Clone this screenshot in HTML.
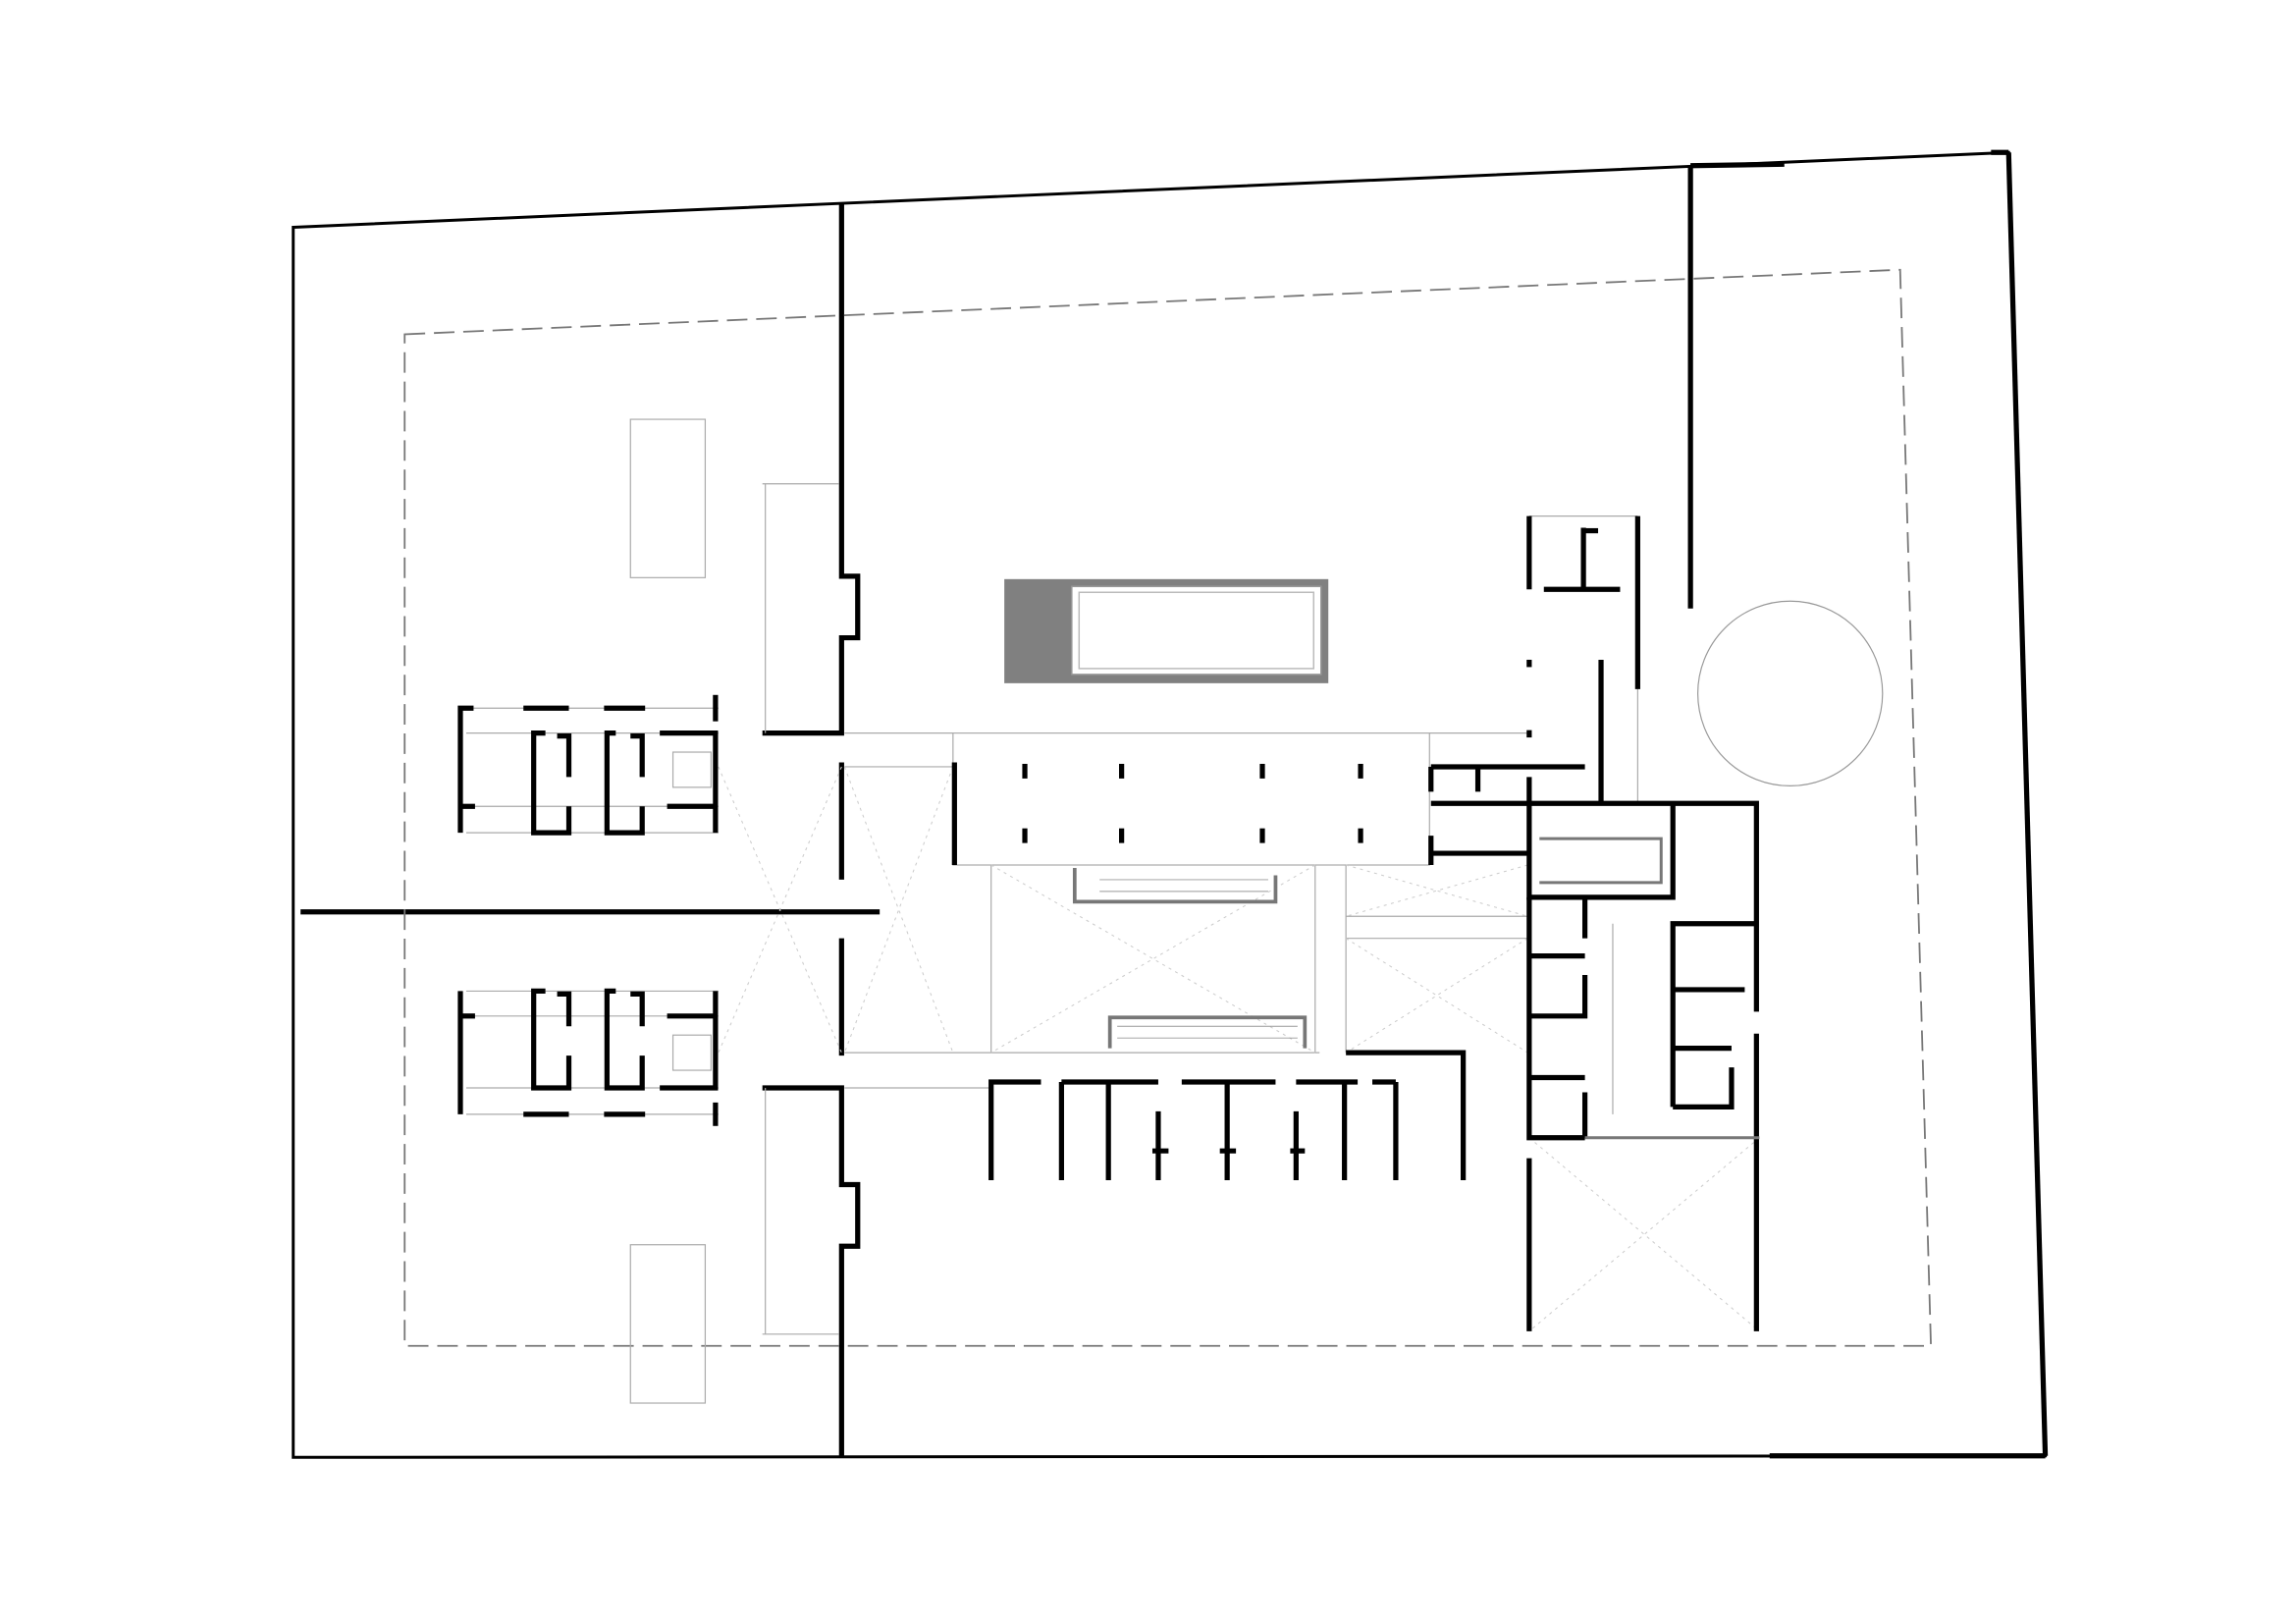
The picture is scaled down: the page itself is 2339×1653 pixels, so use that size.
<!DOCTYPE html>
<html><head><meta charset="utf-8"><style>html,body{margin:0;padding:0;background:#fff}svg{display:block}</style></head>
<body>
<svg width="2339" height="1653" viewBox="0 0 1566 1107" preserveAspectRatio="none" xmlns="http://www.w3.org/2000/svg">
<rect width="1570" height="1110" fill="#fff"/>
<polygon points="200,155 1370,104 1395,993 200,994" fill="none" stroke="#000" stroke-width="2"/>
<g stroke="#000" stroke-width="3.5" fill="none">
<line x1="1153" y1="113" x2="1217" y2="112"/>
<line x1="1358" y1="104" x2="1370" y2="104"/>
<line x1="1370" y1="104" x2="1395" y2="993"/>
<line x1="1207" y1="993" x2="1395" y2="993"/>
<line x1="1153" y1="113" x2="1153" y2="415"/>
<polyline points="574,139 574,393 585,393 585,435 574,435 574,500 520,500"/>
<line x1="574" y1="520" x2="574" y2="600"/>
<line x1="574" y1="640" x2="574" y2="720"/>
<polyline points="520,742 574,742 574,808 585,808 585,850 574,850 574,994"/>
<line x1="205" y1="622" x2="600" y2="622"/>
</g>
<polygon points="276,228 1296,184 1317,918 276,918" fill="none" stroke="#777" stroke-width="1.2" stroke-dasharray="14,6"/>
<circle cx="1221" cy="473" r="63" fill="none" stroke="#999" stroke-width="0.8"/>
<g fill="none" stroke="#aaa" stroke-width="0.8">
<rect x="430" y="286" width="51" height="108"/>
<rect x="430" y="849" width="51" height="108"/>
<rect x="650" y="500" width="325" height="90"/>
<line x1="576" y1="500" x2="650" y2="500"/><line x1="576" y1="523" x2="650" y2="523"/>
<line x1="576" y1="718" x2="900" y2="718"/><line x1="576" y1="742" x2="676" y2="742"/>
<line x1="676" y1="590" x2="676" y2="718"/><line x1="897" y1="590" x2="897" y2="718"/><line x1="918" y1="590" x2="918" y2="718"/>
<line x1="918" y1="625" x2="1042" y2="625"/><line x1="918" y1="640" x2="1042" y2="640"/>
<line x1="975" y1="500" x2="1042" y2="500"/>
<line x1="520" y1="330" x2="572" y2="330"/><line x1="520" y1="910" x2="572" y2="910"/>
<line x1="522" y1="330" x2="522" y2="500"/><line x1="522" y1="742" x2="522" y2="910"/>
<line x1="1117" y1="470" x2="1117" y2="548"/>
<line x1="1043" y1="352" x2="1117" y2="352"/>
<line x1="1100" y1="630" x2="1100" y2="760"/>
<line x1="318" y1="500" x2="490" y2="500"/><line x1="318" y1="568" x2="490" y2="568"/>
<line x1="318" y1="676" x2="490" y2="676"/><line x1="318" y1="742" x2="490" y2="742"/>
<line x1="318" y1="550" x2="490" y2="550"/><line x1="318" y1="693" x2="490" y2="693"/>
<line x1="318" y1="760" x2="490" y2="760"/><line x1="318" y1="483" x2="490" y2="483"/>
<rect x="459" y="513" width="26" height="24"/><rect x="459" y="706" width="26" height="24"/>
</g>
<g stroke="#ccc" stroke-width="0.7" stroke-dasharray="2,3" fill="none">
<line x1="490" y1="523" x2="574" y2="718"/><line x1="574" y1="523" x2="490" y2="718"/>
<line x1="576" y1="523" x2="650" y2="718"/><line x1="650" y1="523" x2="576" y2="718"/>
<line x1="676" y1="590" x2="897" y2="718"/><line x1="897" y1="590" x2="676" y2="718"/>
<line x1="918" y1="640" x2="1042" y2="718"/><line x1="1042" y1="640" x2="918" y2="718"/>
<line x1="918" y1="590" x2="1042" y2="625"/><line x1="1042" y1="590" x2="918" y2="625"/>
<line x1="1043" y1="776" x2="1200" y2="908"/><line x1="1200" y1="776" x2="1043" y2="908"/>
</g>
<rect x="685" y="395" width="221" height="71" fill="#808080"/>
<rect x="731" y="400" width="170" height="60" fill="#fff" stroke="#999"/>
<rect x="736" y="404" width="160" height="52" fill="none" stroke="#bbb"/>
<g fill="none" stroke="#777" stroke-width="2.5">
<polyline points="733,592 733,615 870,615 870,597"/>
<polyline points="757,715 757,694 890,694 890,715"/>
</g>
<g stroke="#999" stroke-width="0.6">
<line x1="750" y1="600" x2="865" y2="600"/><line x1="750" y1="608" x2="865" y2="608"/>
<line x1="762" y1="700" x2="885" y2="700"/><line x1="762" y1="708" x2="885" y2="708"/>
</g>
<g stroke="#000" stroke-width="3.5">
<line x1="699" y1="521" x2="699" y2="531"/><line x1="765" y1="521" x2="765" y2="531"/><line x1="861" y1="521" x2="861" y2="531"/><line x1="928" y1="521" x2="928" y2="531"/>
<line x1="699" y1="565" x2="699" y2="575"/><line x1="765" y1="565" x2="765" y2="575"/><line x1="861" y1="565" x2="861" y2="575"/><line x1="928" y1="565" x2="928" y2="575"/>
<line x1="651" y1="520" x2="651" y2="590"/>
</g>
<g stroke="#000" stroke-width="3.5" fill="none">
<polyline points="323,483 314,483 314,568"/><line x1="357" y1="483" x2="388" y2="483"/><line x1="412" y1="483" x2="440" y2="483"/><line x1="488" y1="474" x2="488" y2="492"/>
<polyline points="372,500 364,500 364,568 388,568 388,550"/><polyline points="380,502 388,502 388,530"/>
<polyline points="420,500 414,500 414,568 438,568 438,550"/><polyline points="430,502 438,502 438,530"/>
<polyline points="450,500 488,500 488,568"/><line x1="455" y1="550" x2="488" y2="550"/>
<line x1="314" y1="550" x2="324" y2="550"/>
<polyline points="314,676 314,760"/><line x1="314" y1="693" x2="324" y2="693"/>
<polyline points="372,676 364,676 364,742 388,742 388,720"/><polyline points="380,678 388,678 388,700"/>
<polyline points="420,676 414,676 414,742 438,742 438,720"/><polyline points="430,678 438,678 438,700"/>
<polyline points="488,676 488,742 450,742"/><line x1="455" y1="693" x2="488" y2="693"/>
<line x1="357" y1="760" x2="388" y2="760"/><line x1="412" y1="760" x2="440" y2="760"/><line x1="488" y1="752" x2="488" y2="768"/>
<polyline points="918,718 998,718 998,805"/>
<polyline points="676,805 676,738 710,738"/><line x1="724" y1="738" x2="790" y2="738"/>
<line x1="806" y1="738" x2="870" y2="738"/><line x1="884" y1="738" x2="926" y2="738"/><line x1="936" y1="738" x2="952" y2="738"/>
<line x1="724" y1="738" x2="724" y2="805"/><line x1="756" y1="738" x2="756" y2="805"/>
<line x1="790" y1="758" x2="790" y2="805"/><line x1="837" y1="738" x2="837" y2="805"/>
<line x1="884" y1="758" x2="884" y2="805"/><line x1="917" y1="738" x2="917" y2="805"/><line x1="952" y1="738" x2="952" y2="805"/>
<line x1="786" y1="785" x2="797" y2="785"/><line x1="832" y1="785" x2="843" y2="785"/><line x1="880" y1="785" x2="890" y2="785"/>
<line x1="1043" y1="352" x2="1043" y2="402"/><polyline points="1053,402 1105,402"/><polyline points="1080,360 1080,402"/><line x1="1080" y1="362" x2="1090" y2="362"/>
<line x1="1117" y1="352" x2="1117" y2="470"/>
<line x1="1092" y1="450" x2="1092" y2="548"/>
<line x1="976" y1="523" x2="1081" y2="523"/><line x1="976" y1="523" x2="976" y2="540"/><line x1="1008" y1="523" x2="1008" y2="540"/>
<polyline points="976,548 1198,548 1198,690"/>
<line x1="976" y1="582" x2="1043" y2="582"/><line x1="976" y1="570" x2="976" y2="590"/>
<polyline points="1043,530 1043,612 1141,612 1141,548"/>
<polyline points="1043,612 1043,776 1081,776"/>
<polyline points="1043,652 1081,652"/><polyline points="1043,693 1081,693 1081,665"/><polyline points="1043,735 1081,735"/>
<line x1="1081" y1="612" x2="1081" y2="640"/><line x1="1081" y1="745" x2="1081" y2="776"/>
<polyline points="1141,755 1141,630 1198,630"/><line x1="1141" y1="675" x2="1190" y2="675"/><line x1="1141" y1="715" x2="1181" y2="715"/>
<polyline points="1181,728 1181,755 1141,755"/>
<line x1="1198" y1="705" x2="1198" y2="908"/>
<line x1="1043" y1="790" x2="1043" y2="908"/>
<line x1="1043" y1="450" x2="1043" y2="455"/><line x1="1043" y1="498" x2="1043" y2="503"/>
</g>
<g stroke="#777" stroke-width="2" fill="none">
<line x1="1081" y1="776" x2="1200" y2="776"/>
<polyline points="1050,572 1133,572 1133,602 1050,602"/>
</g>
</svg>
</body></html>
